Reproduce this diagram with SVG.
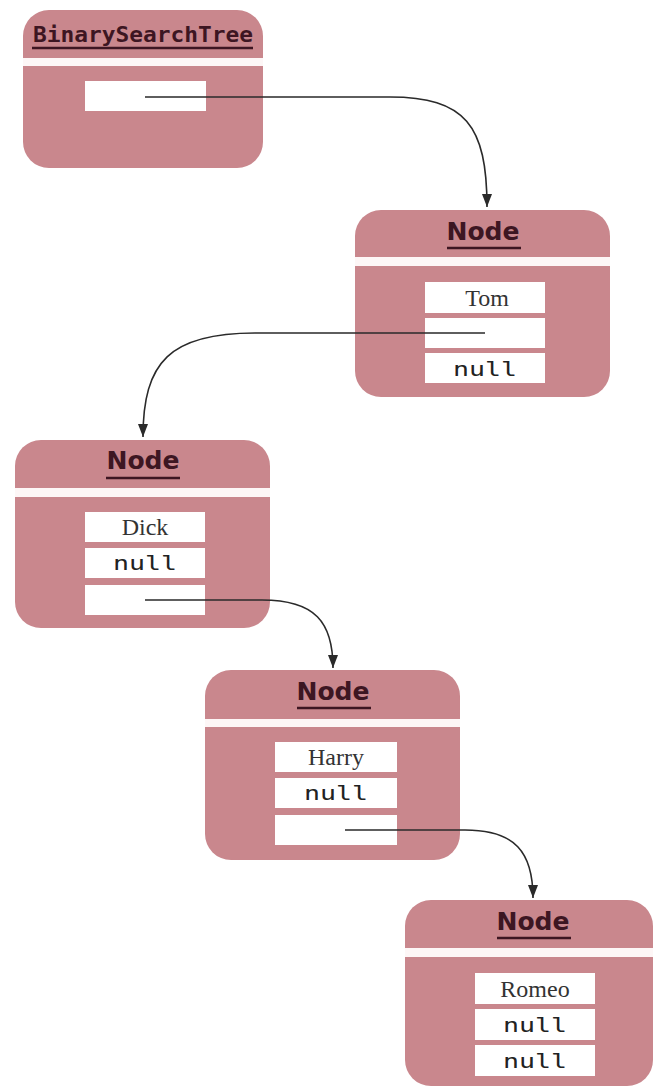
<svg xmlns="http://www.w3.org/2000/svg" width="654" height="1088" viewBox="0 0 654 1088">
<style>
.box{fill:#c9878d}
.band{fill:#fdf6f6}
.fld{fill:#ffffff}
.ttl{font-family:"DejaVu Sans",sans-serif;font-weight:bold;font-size:24px;fill:#3d1622;text-anchor:middle}
.ttlm{font-family:"DejaVu Sans Mono",monospace;font-weight:bold;font-size:21px;fill:#3d1622;text-anchor:middle}
.ul{stroke:#3d1622;stroke-width:2.5}
.sv{font-family:"Liberation Serif",serif;font-size:24px;fill:#333;text-anchor:middle}
.mv{font-family:"DejaVu Sans Mono",monospace;font-size:19px;fill:#222;text-anchor:middle}
.con{fill:none;stroke:#2a2a2a;stroke-width:1.6}
</style>
<defs>
<marker id="ah2" markerUnits="userSpaceOnUse" markerWidth="14" markerHeight="12" refX="13" refY="6" orient="auto" viewBox="0 0 14 12">
<path d="M0,1 L0,11 L13,6 Z" fill="#2a2a2a"/>
</marker>
</defs>
<rect width="654" height="1088" fill="#ffffff"/>

<g id="bst">
<rect class="box" x="23" y="10" width="240" height="158" rx="26"/>
<rect class="band" x="23" y="58" width="240" height="8"/>
<text class="ttlm" x="143" y="42" textLength="220" lengthAdjust="spacingAndGlyphs">BinarySearchTree</text>
<line class="ul" x1="32" y1="48" x2="253" y2="48"/>
<rect class="fld" x="85" y="81" width="121" height="30"/>
</g>

<g id="node-tom">
<rect class="box" x="355" y="210" width="255" height="187" rx="26"/>
<rect class="band" x="355" y="257" width="255" height="9"/>
<text class="ttl" x="483" y="240" textLength="73" lengthAdjust="spacingAndGlyphs">Node</text>
<line class="ul" x1="447" y1="248" x2="521" y2="248"/>
<rect class="fld" x="425" y="282" width="120" height="31"/>
<rect class="fld" x="425" y="318" width="120" height="30"/>
<rect class="fld" x="425" y="353" width="120" height="30"/>
<text class="sv" x="487" y="306">Tom</text>
<text class="mv" x="485" y="376" textLength="64" lengthAdjust="spacingAndGlyphs">null</text>
</g>

<g id="node-dick">
<rect class="box" x="15" y="440" width="255" height="188" rx="26"/>
<rect class="band" x="15" y="488" width="255" height="9"/>
<text class="ttl" x="143" y="469" textLength="73" lengthAdjust="spacingAndGlyphs">Node</text>
<line class="ul" x1="106" y1="478" x2="180" y2="478"/>
<rect class="fld" x="85" y="512" width="120" height="30"/>
<rect class="fld" x="85" y="548" width="120" height="30"/>
<rect class="fld" x="85" y="585" width="120" height="30"/>
<text class="sv" x="145" y="535">Dick</text>
<text class="mv" x="145" y="570" textLength="64" lengthAdjust="spacingAndGlyphs">null</text>
</g>

<g id="node-harry">
<rect class="box" x="205" y="670" width="255" height="190" rx="26"/>
<rect class="band" x="205" y="719" width="255" height="8"/>
<text class="ttl" x="333" y="700" textLength="73" lengthAdjust="spacingAndGlyphs">Node</text>
<line class="ul" x1="297" y1="708" x2="371" y2="708"/>
<rect class="fld" x="275" y="742" width="122" height="30"/>
<rect class="fld" x="275" y="778" width="122" height="30"/>
<rect class="fld" x="275" y="815" width="122" height="30"/>
<text class="sv" x="336" y="765">Harry</text>
<text class="mv" x="336" y="800" textLength="64" lengthAdjust="spacingAndGlyphs">null</text>
</g>

<g id="node-romeo">
<rect class="box" x="405" y="900" width="248" height="186" rx="26"/>
<rect class="band" x="405" y="948" width="248" height="9"/>
<text class="ttl" x="533" y="930" textLength="73" lengthAdjust="spacingAndGlyphs">Node</text>
<line class="ul" x1="497" y1="938" x2="571" y2="938"/>
<rect class="fld" x="475" y="973" width="120" height="31"/>
<rect class="fld" x="475" y="1009" width="120" height="31"/>
<rect class="fld" x="475" y="1045" width="120" height="31"/>
<text class="sv" x="535" y="997">Romeo</text>
<text class="mv" x="535" y="1032" textLength="64" lengthAdjust="spacingAndGlyphs">null</text>
<text class="mv" x="535" y="1068" textLength="64" lengthAdjust="spacingAndGlyphs">null</text>
</g>

<g id="connectors">
<path class="con" d="M145,97 L390,97 C465,97 487,125 487,207" marker-end="url(#ah2)"/>
<path class="con" d="M485,333 L255,333 C170,333 143,362 143,437" marker-end="url(#ah2)"/>
<path class="con" d="M145,600 L262,600 C315,600 333,622 333,668" marker-end="url(#ah2)"/>
<path class="con" d="M345,830 L465,830 C515,830 533,852 533,898" marker-end="url(#ah2)"/>
</g>
</svg>
